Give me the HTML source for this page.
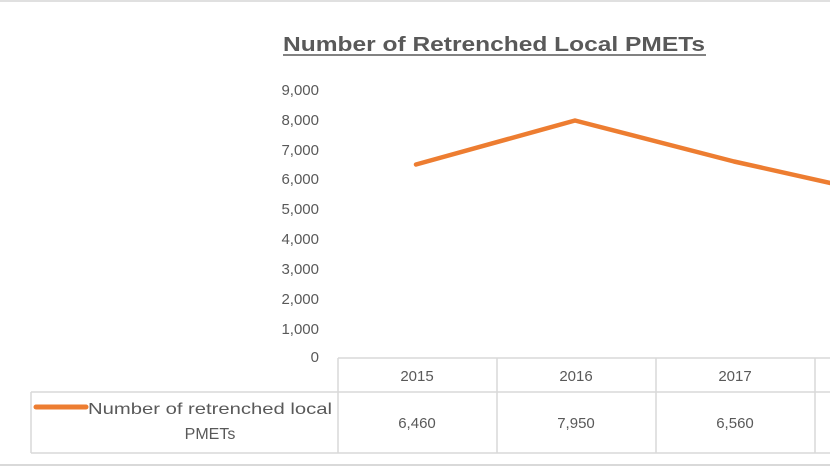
<!DOCTYPE html>
<html><head><style>
body{margin:0;width:830px;height:468px;background:#fff;overflow:hidden;font-family:"Liberation Sans",sans-serif;color:#595959;}
</style></head><body>
<svg width="830" height="468" xmlns="http://www.w3.org/2000/svg" style="position:absolute;left:0;top:0">
<rect x="0" y="0" width="830" height="468" fill="#fff"/>
<line x1="0" y1="1" x2="830" y2="1" stroke="#e0e0e0" stroke-width="2"/>
<line x1="0" y1="465" x2="830" y2="465" stroke="#d9d9d9" stroke-width="2"/>
<text x="494" y="51" text-anchor="middle" font-size="20" font-weight="bold" fill="#595959" textLength="422" lengthAdjust="spacingAndGlyphs">Number of Retrenched Local PMETs</text>
<line x1="283" y1="55" x2="706" y2="55" stroke="#595959" stroke-width="1.5"/>
<g font-size="15" fill="#595959" text-anchor="end">
<text x="319" y="95">9,000</text>
<text x="319" y="125">8,000</text>
<text x="319" y="155">7,000</text>
<text x="319" y="184">6,000</text>
<text x="319" y="214">5,000</text>
<text x="319" y="244">4,000</text>
<text x="319" y="274">3,000</text>
<text x="319" y="304">2,000</text>
<text x="319" y="334">1,000</text>
<text x="319" y="362">0</text>
</g>
<g stroke="#d9d9d9" stroke-width="1.5" fill="none">
<line x1="338" y1="358" x2="830" y2="358"/>
<line x1="31" y1="392" x2="830" y2="392"/>
<line x1="31" y1="453" x2="830" y2="453"/>
<line x1="31" y1="392" x2="31" y2="453"/>
<line x1="338" y1="358" x2="338" y2="453"/>
<line x1="497" y1="358" x2="497" y2="453"/>
<line x1="656" y1="358" x2="656" y2="453"/>
<line x1="815" y1="358" x2="815" y2="453"/>
</g>
<g font-size="15" fill="#595959" text-anchor="middle">
<text x="417" y="381">2015</text>
<text x="576" y="381">2016</text>
<text x="735" y="381">2017</text>
<text x="417" y="428">6,460</text>
<text x="576" y="428">7,950</text>
<text x="735" y="428">6,560</text>
</g>
<text x="88" y="414" font-size="16" fill="#595959" textLength="244" lengthAdjust="spacingAndGlyphs">Number of retrenched local</text>
<text x="210" y="439" font-size="16" fill="#595959" text-anchor="middle">PMETs</text>
<line x1="36" y1="407" x2="86" y2="407" stroke="#ed7d31" stroke-width="5" stroke-linecap="round"/>
<polyline points="416,164.5 575,120.5 734,161.5 893,197" fill="none" stroke="#ed7d31" stroke-width="4.5" stroke-linejoin="round" stroke-linecap="round"/>
</svg>
</body></html>
